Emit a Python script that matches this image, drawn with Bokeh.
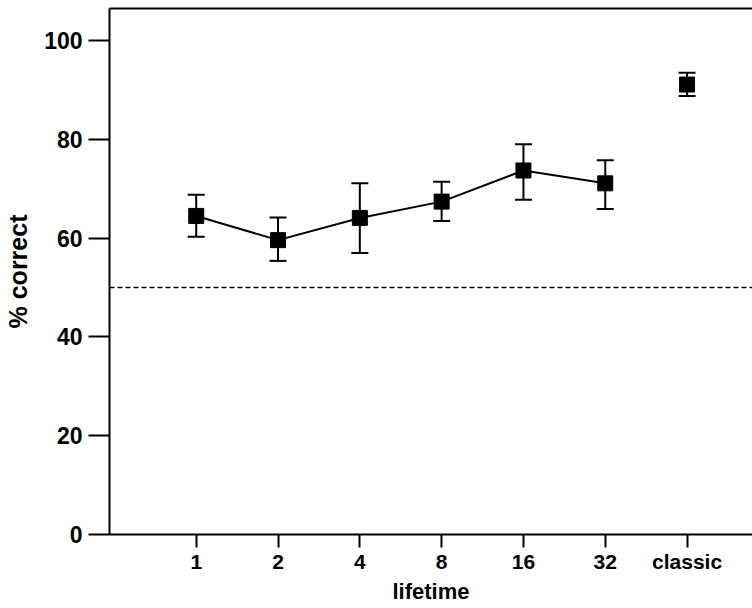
from bokeh.plotting import figure
from bokeh.models import (ColumnDataSource, FixedTicker, LinearAxis, Range1d,
                          Span, Whisker, TeeHead)
from bokeh.embed import file_html
from bokeh.resources import INLINE

# ---- data ----
categories = ["1", "2", "4", "8", "16", "32", "classic"]
mean_correct = [64.5, 59.6, 64.1, 67.4, 73.7, 71.1, 91.1]
upper_err = [68.8, 64.2, 71.1, 71.4, 79.0, 75.8, 93.5]
lower_err = [60.3, 55.4, 57.0, 63.5, 67.8, 65.9, 88.8]
n_lifetime = 6          # first six points are joined by a line
chance_level = 50
y_ticks = [0, 20, 40, 60, 80, 100]

xs = list(range(len(categories)))
FONT = "Liberation Sans"

p = figure(width=752, height=608, output_backend="svg", toolbar_location=None,
           x_range=Range1d(-1.06, 6.8), y_range=Range1d(0, 106.5),
           min_border_left=109, min_border_right=0, min_border_top=8,
           min_border_bottom=74, background_fill_color="white",
           border_fill_color="white", outline_line_color=None)
p.grid.visible = False

# axes styling
for ax in (p.xaxis[0], p.yaxis[0]):
    ax.axis_line_width = 2
    ax.major_tick_line_width = 2
    ax.major_tick_in = 0
    ax.minor_tick_line_color = None
    ax.major_label_text_font = FONT
    ax.major_label_text_font_style = "bold"
    ax.major_label_text_font_size = "23px"
    ax.major_label_text_color = "black"
    ax.axis_label_text_font = FONT
    ax.axis_label_text_font_style = "bold"
    ax.axis_label_text_font_size = "23px"
    ax.axis_label_text_color = "black"

p.yaxis[0].ticker = FixedTicker(ticks=y_ticks)
p.yaxis[0].major_tick_out = 21
p.yaxis[0].major_label_standoff = 6
p.yaxis[0].axis_label = "% correct"
p.yaxis[0].axis_label_standoff = 9
p.yaxis[0].axis_label_text_font_size = "25px"

p.xaxis[0].ticker = FixedTicker(ticks=xs)
p.xaxis[0].major_label_overrides = {i: c for i, c in zip(xs, categories)}
p.xaxis[0].major_tick_out = 13
p.xaxis[0].major_label_standoff = 2
p.xaxis[0].major_label_text_font_size = "21px"
p.xaxis[0].axis_label = "lifetime"
p.xaxis[0].axis_label_standoff = 3
p.xaxis[0].axis_label_text_font_size = "22px"

# top border
top = LinearAxis(ticker=FixedTicker(ticks=[]), axis_line_width=2,
                 major_tick_line_color=None, minor_tick_line_color=None,
                 major_label_text_font_size="0px", major_label_standoff=0)
p.add_layout(top, "above")

# chance line
p.add_layout(Span(location=chance_level, dimension="width", line_color="black",
                  line_width=1.5, line_dash="5 3"))

src = ColumnDataSource(dict(x=xs, y=mean_correct, up=upper_err, lo=lower_err))
line_src = ColumnDataSource(dict(x=xs[:n_lifetime], y=mean_correct[:n_lifetime]))

p.line("x", "y", source=line_src, line_color="black", line_width=2)

wh = Whisker(source=src, base="x", upper="up", lower="lo", dimension="height",
             line_color="black", line_width=2,
             upper_head=TeeHead(size=17, line_width=2, line_color="black"),
             lower_head=TeeHead(size=17, line_width=2, line_color="black"))
p.add_layout(wh)

p.scatter("x", "y", source=src, marker="square", size=15,
          fill_color="black", line_color="black")

open("out.html", "w").write(file_html(p, INLINE))
